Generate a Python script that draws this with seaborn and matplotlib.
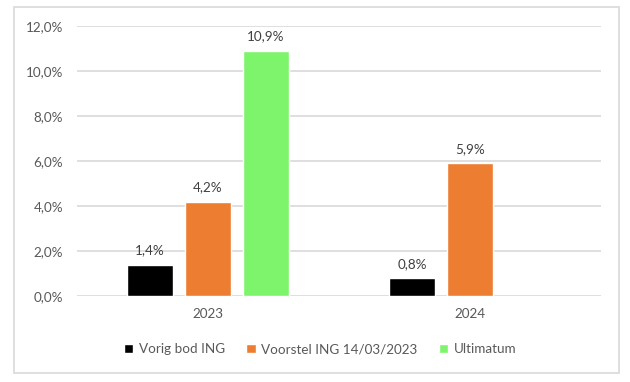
import numpy as np
import pandas as pd
import seaborn as sns
import matplotlib
matplotlib.use("Agg")
import matplotlib.pyplot as plt
from matplotlib.patches import Rectangle
from matplotlib.ticker import FuncFormatter

years = ["2023", "2024"]
series = ["Vorig bod ING", "Voorstel ING 14/03/2023", "Ultimatum"]
vorig_bod = [1.4, 0.8]
voorstel = [4.2, 5.9]
ultimatum = [10.9, np.nan]
yticks = [0, 2, 4, 6, 8, 10, 12]
colors = ["#000000", "#ED7D31", "#7EF46C"]

rows = []
for s, vals in zip(series, [vorig_bod, voorstel, ultimatum]):
    for y, v in zip(years, vals):
        rows.append({"year": y, "series": s, "value": v})
df = pd.DataFrame(rows)

sns.set_theme(style="white")
plt.rcParams["font.family"] = ["Lato", "DejaVu Sans"]
txt = "#595959"

fig = plt.figure(figsize=(6.3, 3.82), dpi=100)
ax = fig.add_axes([77/630, 1-296/382, 524/630, 270/382])

sns.barplot(data=df, x="year", y="value", hue="series", order=years,
            hue_order=series, palette=colors, width=0.664, gap=0.207,
            saturation=1, ax=ax, legend=True, errorbar=None)

ax.set_ylim(0, 12)
ax.set_xlim(-0.5, 1.5)
ax.set_yticks(yticks)
ax.yaxis.set_major_formatter(FuncFormatter(lambda v, p: f"{v:.1f}%".replace(".", ",")))
ax.grid(axis="y", color="#D9D9D9", linewidth=1.2)
ax.set_axisbelow(True)
for sp in ax.spines.values():
    sp.set_visible(False)
ax.tick_params(axis="y", length=0, pad=10, labelsize=9.7, labelcolor=txt)
ax.tick_params(axis="x", length=0, pad=9, labelsize=9.7, labelcolor=txt)
ax.set_xlabel("")
ax.set_ylabel("")

for cont in ax.containers:
    labels = []
    for v in cont.datavalues:
        labels.append("" if np.isnan(v) else f"{v:.1f}%".replace(".", ","))
    ax.bar_label(cont, labels=labels, padding=6, fontsize=9.7, color="#404040")

handles, labs = ax.get_legend_handles_labels()
ax.get_legend().remove()
fig.legend(handles, labs, loc="center", bbox_to_anchor=(320/630, 1-349/382),
           ncol=3, frameon=False, fontsize=9.7, handlelength=0.7,
           handleheight=0.7, handletextpad=0.4, columnspacing=1.6,
           labelcolor=txt)

fig.patches.append(Rectangle((14/630, 1-373/382), 605/630, 366/382,
                             transform=fig.transFigure, fill=False,
                             edgecolor="#D9D9D9", linewidth=1.2))

fig.savefig("out.png", dpi=100, facecolor="white")
